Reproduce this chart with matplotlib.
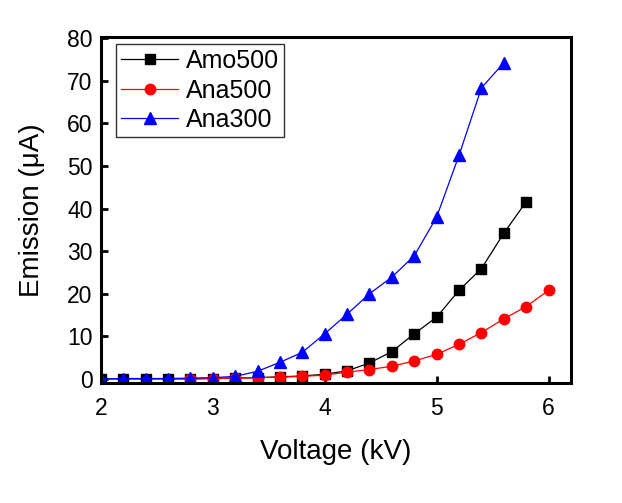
import matplotlib
matplotlib.use('Agg')
import matplotlib.pyplot as pl

pl.rcParams['font.family'] = ['Liberation Sans', 'DejaVu Sans']

voltage = [2.0, 2.2, 2.4, 2.6, 2.8, 3.0, 3.2, 3.4, 3.6, 3.8, 4.0,
           4.2, 4.4, 4.6, 4.8, 5.0, 5.2, 5.4, 5.6, 5.8, 6.0]

amo500 = [0.0, 0.0, 0.0, 0.0, 0.0, 0.1, 0.2, 0.3, 0.5, 0.7, 1.1,
          1.9, 3.75, 6.4, 10.6, 14.5, 20.8, 25.9, 34.2, 41.6]
ana500_v = voltage[4:]
ana500 = [0.1, 0.1, 0.2, 0.3, 0.4, 0.6, 0.9, 1.6, 2.2, 3.0, 4.2,
          5.8, 8.1, 10.9, 14.1, 17.0, 20.8]
ana300 = [0.0, 0.1, 0.1, 0.1, 0.2, 0.3, 0.6, 1.8, 3.9, 6.25, 10.6,
          15.2, 20.0, 23.9, 28.9, 38.0, 52.5, 68.3, 74.2]

fig = pl.figure(figsize=(6.22, 5.03), dpi=100)
ax = fig.add_axes([0.162, 0.239, 0.756, 0.687])

ax.plot(voltage[:len(amo500)], amo500, '-s', color='black', lw=0.9, ms=6.5, label='Amo500')
ax.plot(ana500_v, ana500, '-o', color='red', lw=0.9, ms=7.5, label='Ana500')
ax.plot(voltage[:len(ana300)], ana300, '-^', color='blue', lw=0.9, ms=8, label='Ana300')

ax.set_xlim(2.0, 6.2)
ax.set_ylim(-0.9, 80.2)
ax.set_xticks([2, 3, 4, 5, 6])
ax.set_yticks(range(0, 81, 10))
ax.tick_params(direction='in', length=5, width=2, labelsize=16.5)
ax.tick_params(axis='x', pad=10)
ax.tick_params(axis='y', pad=6)
for s in ax.spines.values():
    s.set_linewidth(2.2)

ax.set_xlabel('Voltage (kV)', fontsize=20, labelpad=14)
ax.set_ylabel('Emission (\u03bcA)', fontsize=20, labelpad=16)

leg = ax.legend(loc='upper left', bbox_to_anchor=(0.032, 0.98), fontsize=18,
                frameon=True, fancybox=False, edgecolor='black', borderpad=0.2,
                labelspacing=0.22, handlelength=2.3, handletextpad=0.3,
                borderaxespad=0)
leg.get_frame().set_linewidth(1.0)

fig.savefig('out.png', dpi=100)
